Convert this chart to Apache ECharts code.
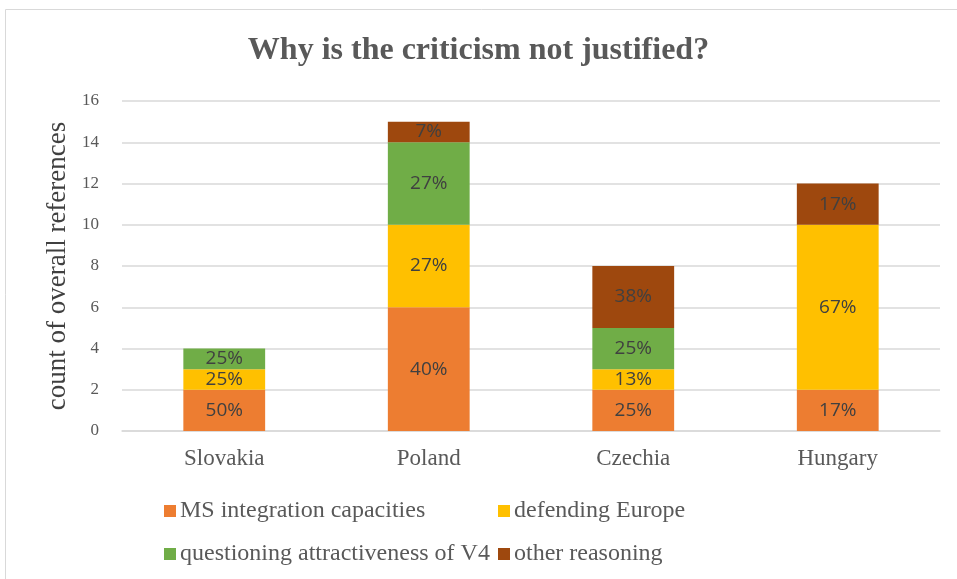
<!DOCTYPE html>
<html>
<head>
<meta charset="utf-8">
<script src="https://cdn.jsdelivr.net/npm/echarts@6/dist/echarts.min.js"></script>
<style>
  html, body { margin: 0; padding: 0; background: #fff; }
  #main { width: 957px; height: 579px; }
</style>
</head>
<body>
<div id="main"></div>
<script>
// 数据
var countries = ["Slovakia", "Poland", "Czechia", "Hungary"];
var seriesNames = ["MS integration capacities", "defending Europe", "questioning attractiveness of V4", "other reasoning"];
var msIntegration = [2, 6, 2, 2];
var defendingEurope = [1, 4, 1, 8];
var questioningV4 = [1, 4, 2, 0];
var otherReasoning = [0, 1, 3, 2];
var yTicks = [0, 2, 4, 6, 8, 10, 12, 14, 16];

var colors = ["#ED7D31", "#FFC000", "#70AD47", "#9E480E"];
var values = [msIntegration, defendingEurope, questioningV4, otherReasoning];

// 每个国家的总数，用于百分比标签
var totals = countries.map(function (c, i) {
  return values.reduce(function (s, arr) { return s + arr[i]; }, 0);
});

var serif = "'Liberation Serif', 'DejaVu Serif', serif";

var myChart = echarts.init(document.getElementById("main"));

var series = seriesNames.map(function (name, k) {
  return {
    name: name,
    type: "bar",
    stack: "total",
    barWidth: "40%",
    itemStyle: { color: colors[k] },
    label: {
      show: true,
      position: "inside",
      color: "#404040",
      fontSize: 19,
      fontFamily: "'Open Sans', 'Liberation Sans', sans-serif",
      formatter: function (p) {
        if (!p.value) return "";
        return Math.round(p.value / totals[p.dataIndex] * 100) + "%";
      }
    },
    data: values[k]
  };
});

// 图例位置（两行两列）
var legendPos = [
  { left: 159, top: 494 },
  { left: 493, top: 494 },
  { left: 159, top: 537 },
  { left: 493, top: 537 }
];
var legends = seriesNames.map(function (name, k) {
  return {
    data: [name],
    left: legendPos[k].left,
    top: legendPos[k].top,
    icon: "rect",
    itemWidth: 12,
    itemHeight: 12,
    itemGap: 0,
    textStyle: { fontFamily: serif, fontSize: 24, color: "#595959", padding: [0, 0, 0, -1] },
    selectedMode: false
  };
});

var options = {
  animation: false,
  title: {
    text: "Why is the criticism not justified?",
    left: "center",
    top: 30,
    textStyle: { fontFamily: serif, fontSize: 32, fontWeight: "bold", color: "#595959" }
  },
  graphic: [{
    type: "rect",
    shape: { x: 5.5, y: 9.5, width: 1000, height: 1000 },
    style: { fill: "none", stroke: "#d9d9d9", lineWidth: 1 },
    silent: true
  }],
  legend: legends,
  grid: { left: 122, right: 17, top: 101, bottom: 148 },
  xAxis: {
    type: "category",
    data: countries,
    axisTick: { show: false },
    axisLine: { lineStyle: { color: "#d9d9d9", width: 1.5 } },
    axisLabel: { fontFamily: serif, fontSize: 23, color: "#595959", margin: 16 }
  },
  yAxis: {
    type: "value",
    min: yTicks[0],
    max: yTicks[yTicks.length - 1],
    interval: yTicks[1] - yTicks[0],
    name: "count of overall references",
    nameLocation: "middle",
    nameGap: 47,
    nameTextStyle: { fontFamily: serif, fontSize: 27, color: "#404040" },
    axisLabel: { fontFamily: serif, fontSize: 17, color: "#595959", margin: 23 },
    splitLine: { lineStyle: { color: "#d9d9d9", width: 1.5 } },
    axisLine: { show: false },
    axisTick: { show: false }
  },
  series: series
};

myChart.setOption(options);
</script>
</body>
</html>
